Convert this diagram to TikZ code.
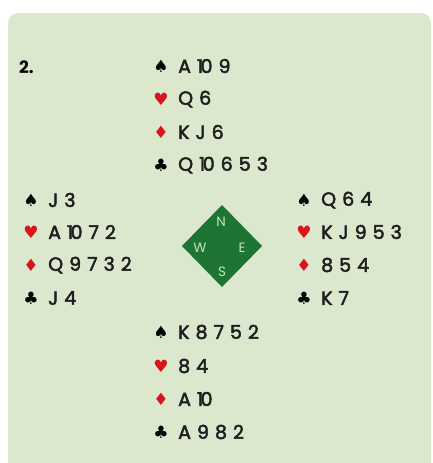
\documentclass[tikz,border=0pt]{standalone}
\usepackage{fontspec}
\setmainfont{Poppins}
\newfontfamily\cardfont{Poppins}[FakeBold=2.5]
\newfontfamily\suitfont{DejaVu Sans}
\newcommand\tenc{1\kern-2.5pt 0}
\definecolor{panel}{HTML}{DCE8CD}
\definecolor{compass}{HTML}{1E7433}
\definecolor{suitred}{HTML}{D8151C}
\definecolor{letterc}{HTML}{C4E2C2}
\begin{document}
\begin{tikzpicture}[x=1pt,y=-1pt,
  suit/.style={font=\suitfont\fontsize{17}{17}\selectfont, anchor=center, inner sep=0pt},
  blk/.style={suit, text=black},
  rd/.style={suit, text=suitred},
  cards/.style={font=\cardfont\fontsize{19}{19}\selectfont\addfontfeatures{LetterSpace=5}, anchor=west, inner sep=0pt, text=black!88},
  dir/.style={font=\fontsize{13.5}{13.5}\selectfont, text=letterc, inner sep=0pt}]
\useasboundingbox (0,0) rectangle (432,463);
\fill[panel, rounded corners=10pt] (8,13) rectangle (431,480);
\node[font=\bfseries\fontsize{17}{17}\selectfont, anchor=west, inner sep=0pt] (num) at (19,67) {2.};
% North
\node[blk] (ns) at (161,66) {♠}; \node[cards] (nst) at (178,66) {A \tenc{} 9};
\node[rd]  (nh) at (161,99) {♥}; \node[cards] (nht) at (178,99) {Q 6};
\node[rd]  (nd) at (161,132) {♦}; \node[cards] (ndt) at (178,132) {K J 6};
\node[blk] (nc) at (161,165) {♣}; \node[cards] (nct) at (178,165) {Q \tenc{} 6 5 3};
% West
\node[blk] (ws) at (31,200) {♠}; \node[cards] (wst) at (48,200) {J 3};
\node[rd]  (wh) at (31,232) {♥}; \node[cards] (wht) at (48,232) {A \tenc{} 7 2};
\node[rd]  (wd) at (31,265) {♦}; \node[cards] (wdt) at (48,265) {Q 9 7 3 2};
\node[blk] (wc) at (31,298) {♣}; \node[cards] (wct) at (48,298) {J 4};
% East
\node[blk] (es) at (304,200) {♠}; \node[cards] (est) at (321,200) {Q 6 4};
\node[rd]  (eh) at (304,232) {♥}; \node[cards] (eht) at (321,232) {K J 9 5 3};
\node[rd]  (ed) at (304,265) {♦}; \node[cards] (edt) at (321,265) {8 5 4};
\node[blk] (ec) at (304,298) {♣}; \node[cards] (ect) at (321,298) {K 7};
% South
\node[blk] (ss) at (161,332) {♠}; \node[cards] (sst) at (178,332) {K 8 7 5 2};
\node[rd]  (sh) at (161,366) {♥}; \node[cards] (sht) at (178,366) {8 4};
\node[rd]  (sd) at (161,399) {♦}; \node[cards] (sdt) at (178,399) {A \tenc};
\node[blk] (sc) at (161,432) {♣}; \node[cards] (sct) at (178,432) {A 9 8 2};
% Compass
\fill[compass] (222,205) -- (262,246) -- (222,287) -- (182,246) -- cycle;
\node[dir] (cn) at (221,222) {N};
\node[dir] (cw) at (200,248) {W};
\node[dir] (ce) at (242,248) {E};
\node[dir] (cs) at (222,272) {S};
\end{tikzpicture}
\end{document}
